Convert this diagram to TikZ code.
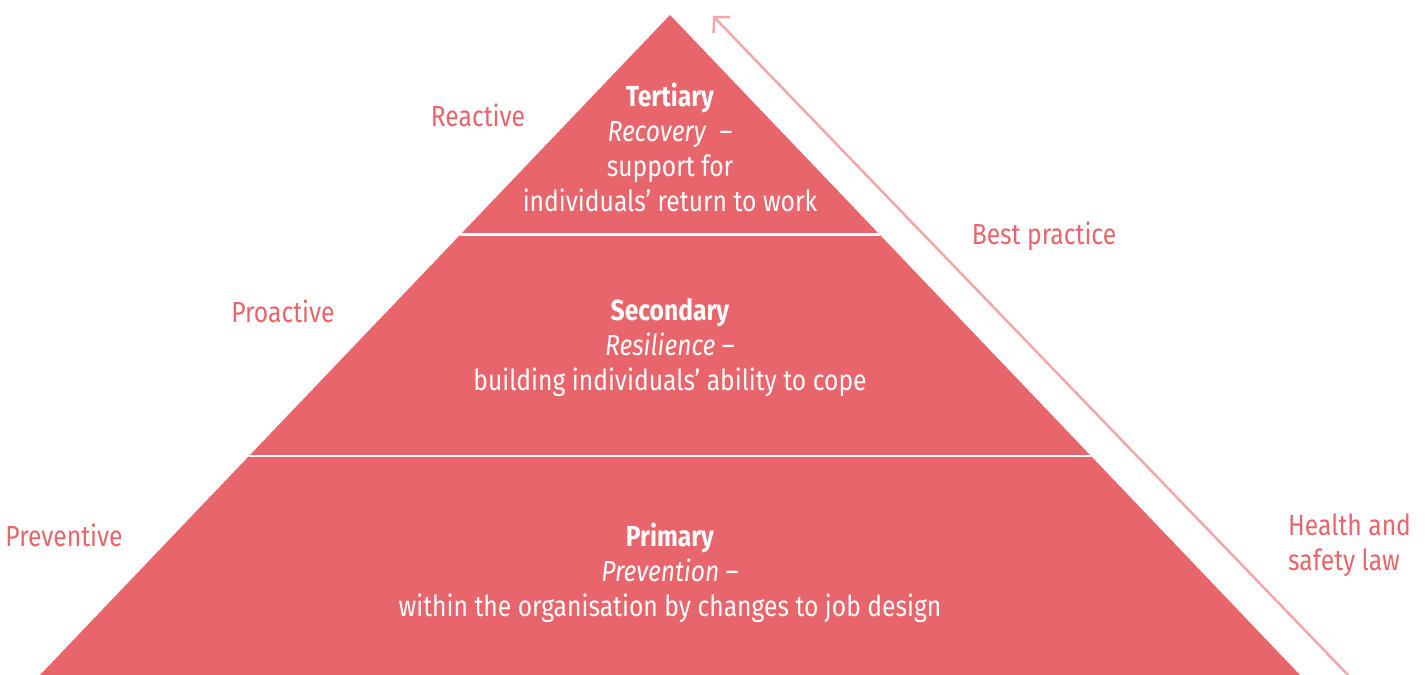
\documentclass[tikz,border=0pt]{standalone}
\usepackage{fontspec}
\setmainfont[FakeStretch=0.85]{Fira Sans}
\usepackage{tikz}
\usetikzlibrary{arrows.meta,positioning}
\definecolor{pyrred}{HTML}{E8656B}
\definecolor{pyrpink}{HTML}{F2A7AA}
\tikzset{
  bandtext/.style={text=white,align=center,font=\fontsize{16.5}{19.9}\selectfont},
  sidelabel/.style={text=pyrred,align=left,font=\fontsize{16.5}{19.9}\selectfont},
  bandline/.style={white,line width=0.06cm},
}

\begin{document}
\begin{tikzpicture}[x=0.02cm,y=-0.02cm]
\useasboundingbox (0,0) rectangle (1427,675);
% pyramid corners
\coordinate (apex) at (670,15);
\coordinate (bl) at (40,675);
\coordinate (br) at (1300,675);
\fill[pyrred] (apex) -- (bl) -- (br) -- cycle;
% band borders
\coordinate (tl) at (460,235);
\coordinate (tr) at (880,235);
\coordinate (sl) at (249,456);
\coordinate (sr) at (1091,456);
\draw[bandline] (tl) -- (tr);
\draw[bandline] (sl) -- (sr);
% band texts
\node[bandtext] (tertiary) at (670,147) {\textbf{Tertiary}\\\textit{Recovery} \ --\\support for\\individuals’ return to work};
\node[bandtext] (secondary) at (670,348) {\textbf{Secondary}\\\textit{Resilience} --\\building individuals’ ability to cope};
\node[bandtext] (primary) at (670,573) {\textbf{Primary}\\\textit{Prevention} --\\within the organisation by changes to job design};
% side labels
\node[sidelabel] (reactive) at (478,115) {Reactive};
\node[sidelabel] (proactive) at (283,311) {Proactive};
\node[sidelabel] (preventive) at (64,535) {Preventive};
\node[sidelabel] (best) at (1044,236) {Best practice};
\node[sidelabel,anchor=west] (law) at (1282,545) {Health and\\safety law};
% arrow along the right side
\coordinate (arrowfoot) at (1348,675);
\coordinate (arrowtip) at (713,16);
\draw[pyrpink,line width=0.05cm,-{Straight Barb[length=0.22cm,width=0.46cm]}] (arrowfoot) -- (arrowtip);
\end{tikzpicture}
\end{document}
